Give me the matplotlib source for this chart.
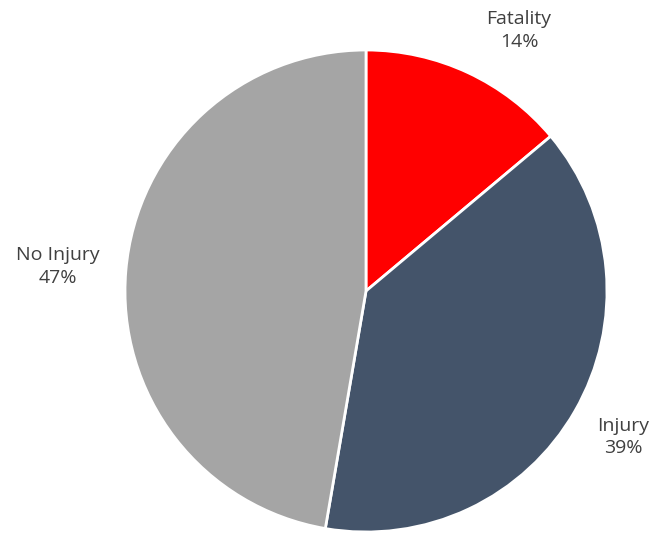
import matplotlib
matplotlib.use("Agg")
import matplotlib.pyplot as plt

categories = ["Fatality", "Injury", "No Injury"]
shares = [13.9, 38.8, 47.3]
colors = ["#FF0000", "#44546A", "#A5A5A5"]

fig = plt.figure(figsize=(6.55, 5.33), dpi=100)
cx, cy, r = 366, 291, 241
W, H = 655, 533
ax = fig.add_axes([(cx - r) / W, (H - cy - r) / H, 2 * r / W, 2 * r / H])

wedges, _ = ax.pie(shares, colors=colors, startangle=90, counterclock=False,
                   radius=1.0, wedgeprops=dict(edgecolor="white", linewidth=2))

# label centres in pie-radius units (Excel best-fit placement)
label_pos = [(0.635, 1.08), (1.066, -0.606), (-1.28, 0.10)]
for name, val, (x, y) in zip(categories, shares, label_pos):
    ax.text(x, y, f"{name}\n{round(val)}%",
            ha="center", va="center", fontsize=14, color="#404040",
            family="Open Sans", linespacing=1.35)

ax.set_xlim(-1, 1)
ax.set_ylim(-1, 1)
ax.set_aspect("equal")
ax.axis("off")

fig.savefig("out.png", dpi=100)
